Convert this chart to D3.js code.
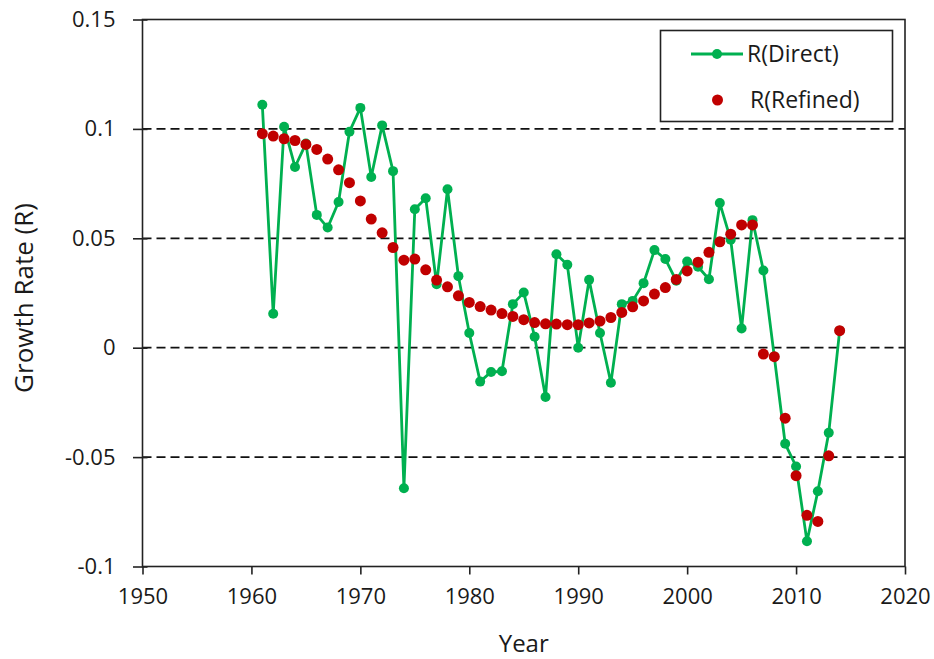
<!DOCTYPE html>
<html>
<head>
<meta charset="utf-8">
<script src="https://cdn.jsdelivr.net/npm/d3@7"></script>
<style>
  body { margin: 0; background: #fff; }
  text { font-family: "Open Sans", sans-serif; fill: #1a1a1a; }
</style>
</head>
<body>
<div id="chart"></div>
<script>
// years 1961..2014
var years = d3.range(1961, 2015);
var direct = [0.111, 0.0155, 0.101, 0.0826, 0.0933, 0.0607, 0.0549, 0.0666, 0.0987, 0.1096,
              0.078, 0.1016, 0.0807, -0.0642, 0.0633, 0.0683, 0.029, 0.0724, 0.0327, 0.0067,
              -0.0155, -0.0111, -0.0108, 0.0199, 0.0252, 0.005, -0.0225, 0.0427, 0.0379, 0.0,
              0.031, 0.0067, -0.016, 0.0199, 0.0214, 0.0295, 0.0446, 0.0405, 0.0306, 0.0394,
              0.037, 0.0313, 0.0661, 0.0493, 0.0088, 0.0583, 0.0353, -0.004, -0.0439, -0.0543,
              -0.0885, -0.0656, -0.0389, 0.0078];
var refined = [0.0978, 0.0967, 0.0955, 0.0947, 0.0929, 0.0906, 0.0862, 0.0813, 0.0754, 0.0671,
               0.0588, 0.0525, 0.0458, 0.040, 0.0405, 0.0356, 0.0309, 0.0278, 0.0237, 0.0207,
               0.0188, 0.0172, 0.0156, 0.0143, 0.0128, 0.0115, 0.0109, 0.0108, 0.0105, 0.0105,
               0.0113, 0.0122, 0.0138, 0.0161, 0.0187, 0.0214, 0.0245, 0.0275, 0.0312, 0.0351,
               0.0391, 0.0436, 0.0484, 0.0519, 0.0561, 0.0561, -0.0029, -0.0041, -0.0322, -0.0585,
               -0.0766, -0.0794, -0.0494, 0.0078];
var xTicks = [1950, 1960, 1970, 1980, 1990, 2000, 2010, 2020];
var yTicks = [-0.1, -0.05, 0, 0.05, 0.1, 0.15];
var gridTicks = [-0.05, 0, 0.05, 0.1];
var seriesNames = ["R(Direct)", "R(Refined)"];

var green = "#00b050", red = "#c00000";

var svg = d3.select("#chart").append("svg")
    .attr("width", 934)
    .attr("height", 659);

var x = d3.scaleLinear().domain([1950, 2020]).range([142.5, 905]);
var y = d3.scaleLinear().domain([-0.1, 0.15]).range([566.5, 19.5]);

// dashed gridlines
svg.append("g").selectAll("line")
    .data(gridTicks)
    .enter().append("line")
    .attr("x1", x(1950)).attr("x2", x(2020))
    .attr("y1", function(d) { return y(d); })
    .attr("y2", function(d) { return y(d); })
    .attr("stroke", "#111")
    .attr("stroke-width", 1.7)
    .attr("stroke-dasharray", "9,5");

// frame
svg.append("rect")
    .attr("x", x(1950)).attr("y", y(0.15))
    .attr("width", x(2020) - x(1950))
    .attr("height", y(-0.1) - y(0.15))
    .attr("fill", "none")
    .attr("stroke", "#222")
    .attr("stroke-width", 1.6);

// axes
var yAxis = svg.append("g")
    .attr("transform", "translate(" + x(1950) + ",0)")
    .call(d3.axisLeft(y).tickValues(yTicks).tickSize(9).tickPadding(18)
        .tickFormat(function(d) { return String(+d.toFixed(2)); }));
yAxis.select(".domain").remove();
yAxis.selectAll("line").attr("x2", -9.5).attr("x1", 5).attr("stroke", "#222").attr("stroke-width", 1.6);
yAxis.selectAll("text").style("font-size", "22px").attr("fill", "#1a1a1a");

var xAxis = svg.append("g")
    .attr("transform", "translate(0," + y(-0.1) + ")")
    .call(d3.axisBottom(x).tickValues(xTicks).tickSize(8).tickPadding(14).tickFormat(d3.format("d")));
xAxis.select(".domain").remove();
xAxis.selectAll("line").attr("stroke", "#222").attr("stroke-width", 1.6);
xAxis.selectAll("text").style("font-size", "22px").attr("fill", "#1a1a1a");

// axis titles
svg.append("text")
    .attr("x", (x(1950) + x(2020)) / 2)
    .attr("y", 652)
    .attr("text-anchor", "middle")
    .style("font-size", "24px")
    .text("Year");

svg.append("text")
    .attr("transform", "translate(33,298) rotate(-90)")
    .attr("text-anchor", "middle")
    .style("font-size", "26px")
    .text("Growth Rate (R)");

// direct series
var line = d3.line()
    .x(function(d, i) { return x(years[i]); })
    .y(function(d) { return y(d); });

svg.append("path")
    .datum(direct)
    .attr("d", line)
    .attr("fill", "none")
    .attr("stroke", green)
    .attr("stroke-width", 2.8);

svg.append("g").selectAll("circle")
    .data(direct)
    .enter().append("circle")
    .attr("cx", function(d, i) { return x(years[i]); })
    .attr("cy", function(d) { return y(d); })
    .attr("r", 5)
    .attr("fill", green);

// refined series
svg.append("g").selectAll("circle")
    .data(refined)
    .enter().append("circle")
    .attr("cx", function(d, i) { return x(years[i]); })
    .attr("cy", function(d) { return y(d); })
    .attr("r", 5.5)
    .attr("fill", red);

// legend
var lg = svg.append("g");
lg.append("rect")
    .attr("x", 660.5).attr("y", 30.5)
    .attr("width", 232).attr("height", 91)
    .attr("fill", "#fff")
    .attr("stroke", "#222")
    .attr("stroke-width", 1.6);
lg.append("line")
    .attr("x1", 691).attr("x2", 743).attr("y1", 54).attr("y2", 54)
    .attr("stroke", green).attr("stroke-width", 2.8);
lg.append("circle").attr("cx", 717).attr("cy", 54).attr("r", 5).attr("fill", green);
lg.append("circle").attr("cx", 717.5).attr("cy", 100).attr("r", 5.5).attr("fill", red);
lg.append("text").attr("x", 747).attr("y", 62).style("font-size", "23px").text(seriesNames[0]);
lg.append("text").attr("x", 750).attr("y", 108).style("font-size", "23px").text(seriesNames[1]);
</script>
</body>
</html>
